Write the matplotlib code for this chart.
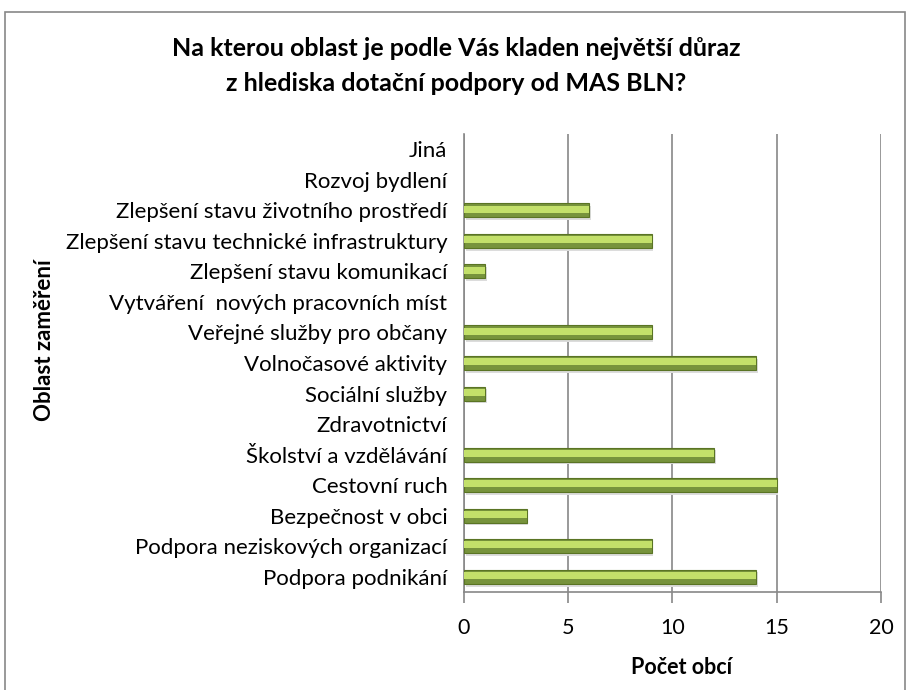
import matplotlib
matplotlib.use("Agg")
import matplotlib.pyplot as plt
from matplotlib.patches import Rectangle

categories = [
    "Podpora podnikání",
    "Podpora neziskových organizací",
    "Bezpečnost v obci",
    "Cestovní ruch",
    "Školství a vzdělávání",
    "Zdravotnictví",
    "Sociální služby",
    "Volnočasové aktivity",
    "Veřejné služby pro občany",
    "Vytváření  nových pracovních míst",
    "Zlepšení stavu komunikací",
    "Zlepšení stavu technické infrastruktury",
    "Zlepšení stavu životního prostředí",
    "Rozvoj bydlení",
    "Jiná",
]
values = [14, 9, 3, 15, 12, 0, 1, 14, 9, 0, 1, 9, 6, 0, 0]
x_ticks = [0, 5, 10, 15, 20]

plt.rcParams['font.family'] = ['Lato', 'DejaVu Sans']

fig = plt.figure(figsize=(9.12, 6.9), dpi=100)
fig.patches.append(Rectangle((5/912, -0.01), 900/912, (690-12)/690 + 0.01,
                             transform=fig.transFigure, fill=False,
                             edgecolor='#888888', linewidth=1.2))

ax = fig.add_axes([464/912, 1-592/690, (881-464)/912, (592-134)/690])
y = list(range(len(categories)))
h = 0.46
lw = [0.8 if v > 0 else 0 for v in values]
# shadow
ax.barh([v - 0.09 for v in y], values, height=h, left=0.08, color='#dcdcdc', zorder=2,
        linewidth=0)
# main bar
ax.barh(y, values, height=h, color='#77933c', edgecolor='#5a7424', linewidth=lw, zorder=3)
# highlight
ax.barh([v + 0.04 for v in y], values, height=h*0.5, color='#c3e06a', linewidth=0, zorder=4)

ax.set_xlim(0, 20)
ax.set_ylim(-0.5, len(categories) - 0.5)
ax.set_xticks(x_ticks)
ax.set_xticklabels([str(t) for t in x_ticks], fontsize=15.5)
ax.set_yticks(y)
ax.set_yticklabels(categories, fontsize=16)
ax.tick_params(axis='y', length=0, pad=12)
ax.tick_params(axis='x', length=8, color='#888888', width=1.2, pad=11)
ax.grid(axis='x', color='#888888', linewidth=1.2, zorder=0)
ax.set_axisbelow(True)
for s in ['top', 'right']:
    ax.spines[s].set_visible(False)
for s in ['left', 'bottom']:
    ax.spines[s].set_color('#888888')
    ax.spines[s].set_linewidth(1.2)

fig.text(682/912, 1-668/690, "Počet obcí", fontsize=15.5, fontweight='bold',
         ha='center', va='center')
fig.text(45/912, 1-340/690, "Oblast zaměření", rotation=90, fontsize=16,
         fontweight='bold', ha='center', va='center')
fig.text(0.5, 1-66/690, "Na kterou oblast je podle Vás kladen největší důraz\nz hlediska dotační podpory od MAS BLN?",
         ha='center', va='center', fontsize=18, fontweight='bold', linespacing=1.65)

fig.savefig("out.png", dpi=100)
